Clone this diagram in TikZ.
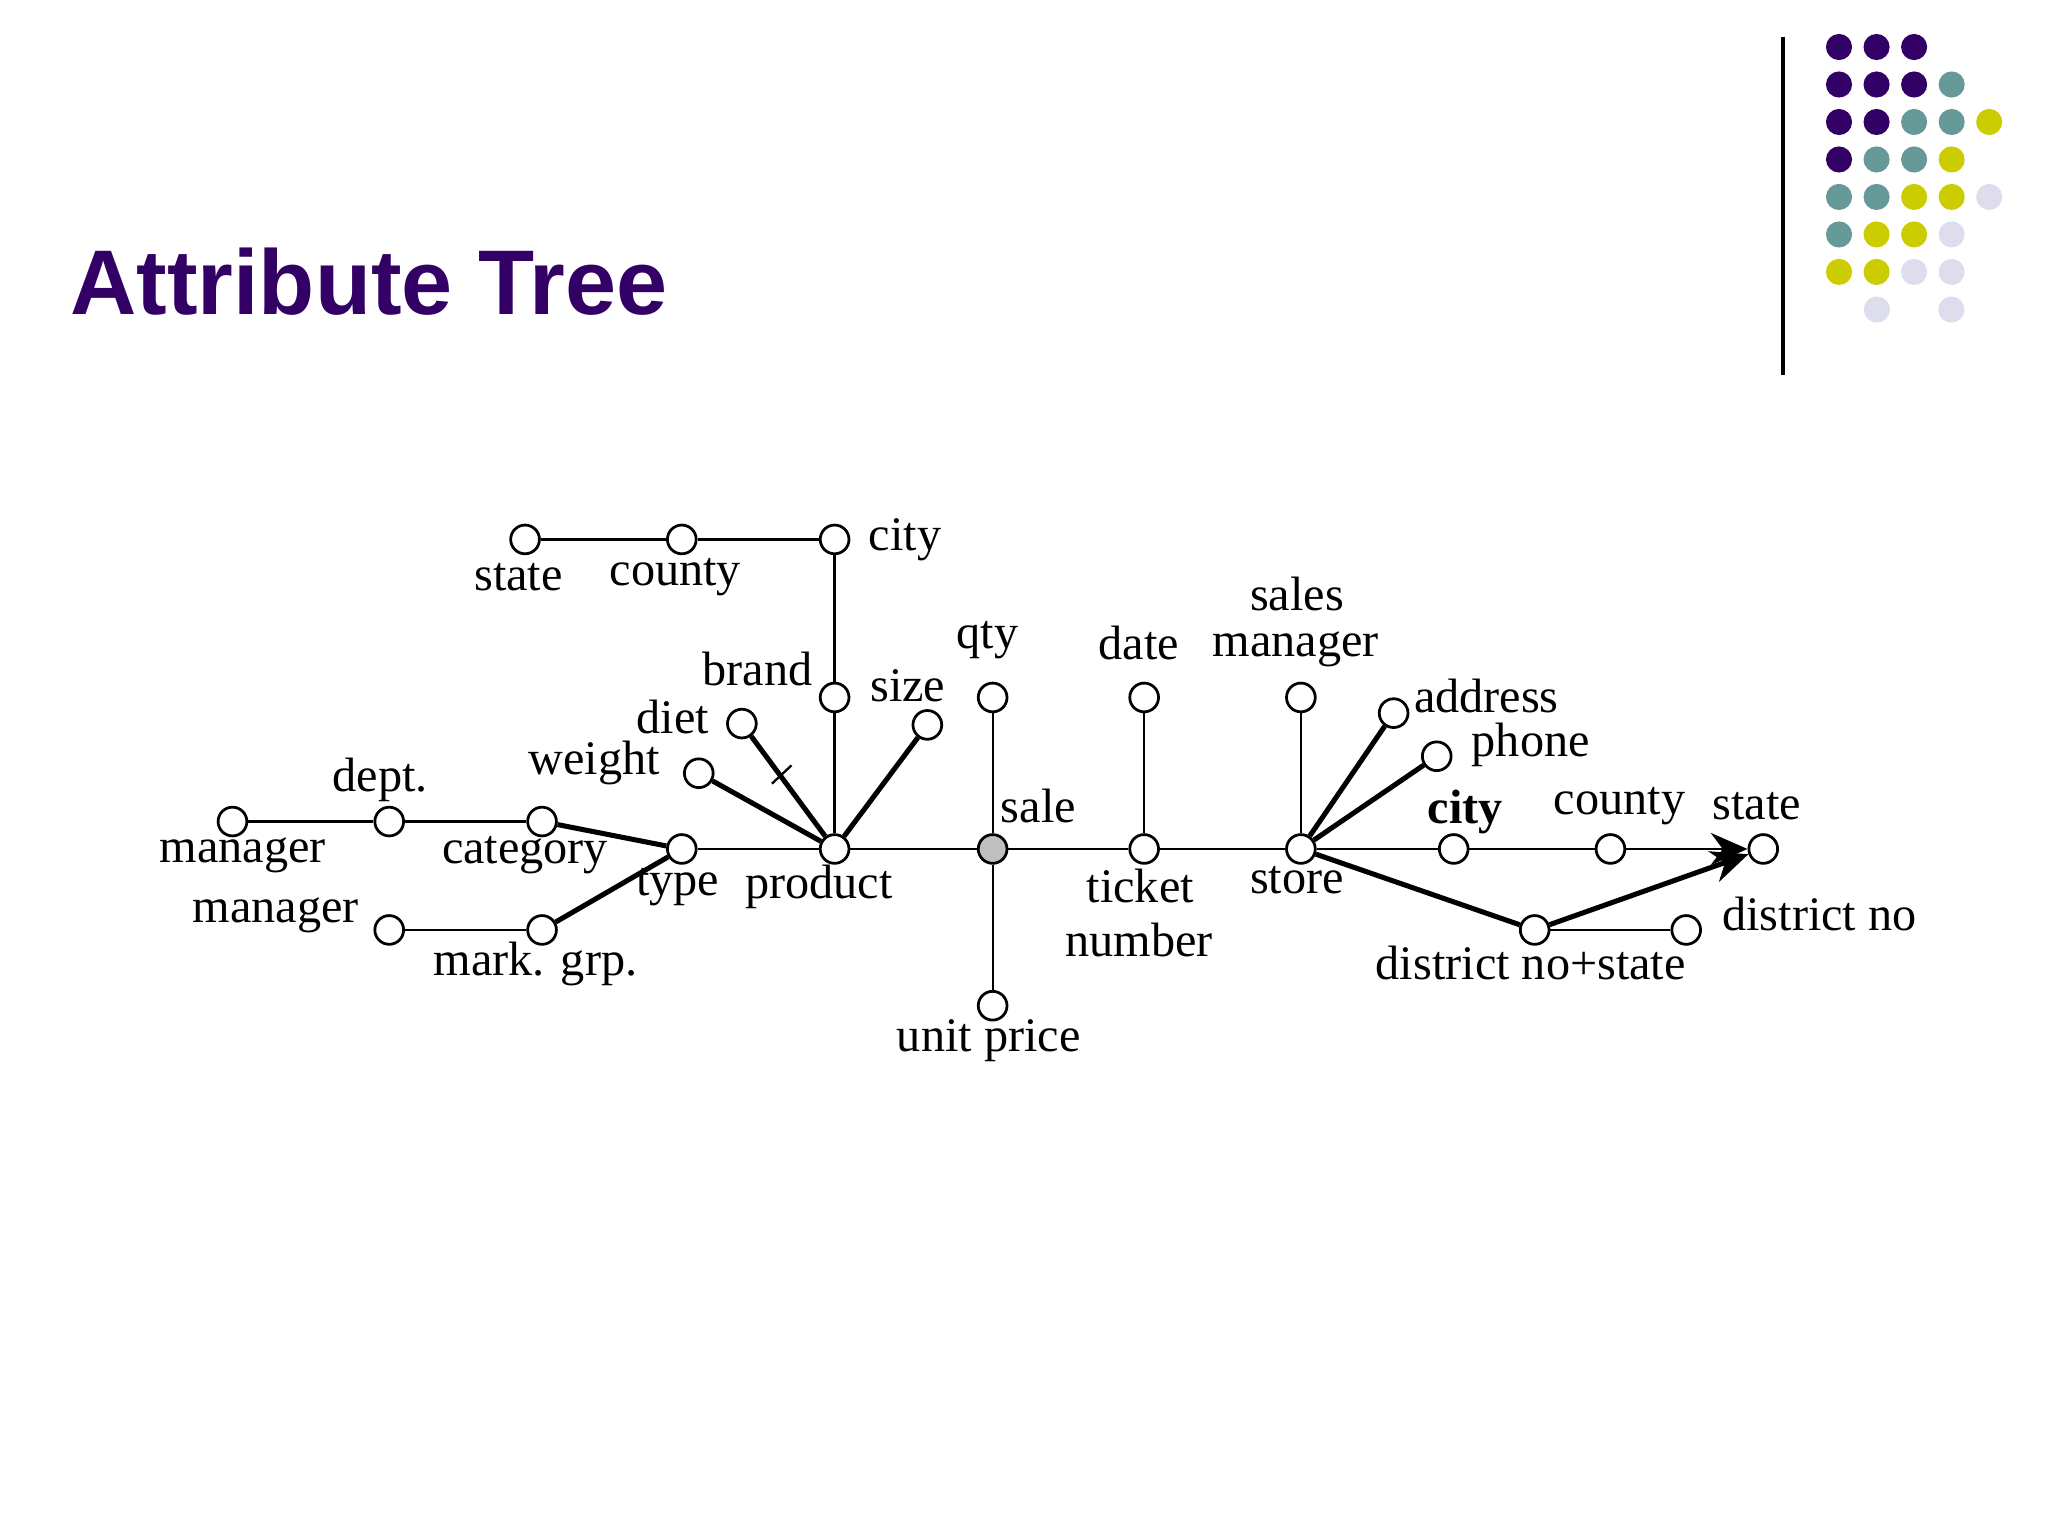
\documentclass[tikz,border=0pt]{standalone}
\usepackage{fontspec}
\setmainfont{Liberation Serif}
\newfontfamily\titlefont{Liberation Sans}
\usetikzlibrary{arrows.meta}
\definecolor{cP}{HTML}{330066}
\definecolor{cT}{HTML}{669999}
\definecolor{cY}{HTML}{CCCC00}
\definecolor{cL}{HTML}{DDDDEE}
\tikzset{
 v/.style={circle,draw,line width=0.6pt,fill=white,minimum size=0.22cm,inner sep=0pt},
 lab/.style={font=\fontsize{10.5}{12}\selectfont,inner sep=0pt},
 thick2/.style={line width=1.1pt},
 thin2/.style={line width=0.5pt},
 dot/.style={circle,fill=#1,minimum size=0.2cm,inner sep=0pt}
}
\begin{document}
\begin{tikzpicture}[x=0.01cm,y=-0.01cm]
\useasboundingbox (0,0) rectangle (1568,1176);
\node[anchor=west,text=cP,font=\titlefont\bfseries\fontsize{20}{24}\selectfont,inner sep=0pt] (title) at (53,216) {Attribute Tree};
\draw[line width=0.8pt] (1365,28) -- (1365,287);
% dots
\foreach \r/\row in {0/{P,P,P},1/{P,P,P,T},2/{P,P,T,T,Y},3/{P,T,T,Y},4/{T,T,Y,Y,L},5/{T,Y,Y,L},6/{Y,Y,L,L}}{
  \foreach \c [count=\i from 0] in \row {
    \node[dot=c\c] at (1408+28.75*\i,36+28.7*\r) {};
  }
}
\node[dot=cL] at (1437,237) {};
\node[dot=cL] at (1494,237) {};
% nodes
\node[v] (st1) at (402,413) {};
\node[v] (co1) at (522,413) {};
\node[v] (ci1) at (639,413) {};
\node[v] (brand) at (639,534) {};
\node[v] (diet) at (568,554) {};
\node[v] (size) at (710,555) {};
\node[v] (weight) at (535,592) {};
\node[v] (product) at (639,650) {};
\node[v] (qty) at (760,534) {};
\node[v,fill=black!25] (sale) at (760,650) {};
\node[v] (unit) at (760,770) {};
\node[v] (date) at (876,534) {};
\node[v] (ticket) at (876,650) {};
\node[v] (smgr) at (996,534) {};
\node[v] (store) at (996,650) {};
\node[v] (addr) at (1067,546) {};
\node[v] (phone) at (1100,579) {};
\node[v] (ci2) at (1113,650) {};
\node[v] (co2) at (1233,650) {};
\node[v] (st2) at (1350,650) {};
\node[v] (dist) at (1175,712) {};
\node[v] (dno) at (1291,712) {};
\node[v] (mgr1) at (178,629) {};
\node[v] (dept) at (298,629) {};
\node[v] (cat) at (415,629) {};
\node[v] (type) at (522,650) {};
\node[v] (mgr2) at (298,712) {};
\node[v] (mark) at (415,712) {};
% edges
\draw[thin2] (st1)--(co1) (co1)--(ci1) (ci1)--(brand) (brand)--(product)
 (product)--(type) (cat)--(dept) (dept)--(mgr1) (mark)--(mgr2)
 (product)--(sale) (sale)--(qty) (sale)--(unit) (sale)--(ticket) (ticket)--(date)
 (ticket)--(store) (store)--(smgr) (store)--(ci2) (ci2)--(co2) (dist)--(dno);
\draw[thick2] (diet)--(product) (size)--(product) (weight)--(product)
 (type)--(cat) (type)--(mark) (store)--(addr) (store)--(phone) (store)--(dist);
\draw[thin2,-{Stealth[length=8pt,width=7pt]}] (co2)--(st2);
\draw[thick2,-{Stealth[length=8pt,width=7pt]}] (dist)--(st2);
\draw[thin2] (591,600)--(606,586);
% labels
\node[lab] (l1) at (693,413) {city};
\node[lab] (l2) at (397,442) {state};
\node[lab] (l3) at (517,442) {county};
\node[lab] (l4) at (580,512) {brand};
\node[lab] (l5) at (515,549) {diet};
\node[lab] (l6) at (695,525) {size};
\node[lab] (l7) at (455,584) {weight};
\node[lab] (l8) at (291,597) {dept.};
\node[lab] (l9) at (186,655) {manager};
\node[lab] (l10) at (402,655) {category};
\node[lab] (l11) at (519,679) {type};
\node[lab] (l12) at (627,679) {product};
\node[lab] (l13) at (211,701) {manager};
\node[lab] (l14) at (410,738) {mark. grp.};
\node[lab] (l15) at (756,490) {qty};
\node[lab] (l16) at (795,617) {sale};
\node[lab] (l17) at (757,797) {unit price};
\node[lab] (l18) at (872,492) {date};
\node[lab] (l19) at (873,678) {ticket};
\node[lab] (l20) at (872,720) {number};
\node[lab] (l21) at (993,455) {sales};
\node[lab] (l22) at (992,497) {manager};
\node[lab] (l23) at (993,674) {store};
\node[lab] (l24) at (1138,533) {address};
\node[lab] (l25) at (1172,570) {phone};
\node[lab,font=\bfseries\fontsize{10.5}{12}\selectfont] (l26) at (1122,622) {city};
\node[lab] (l27) at (1240,617) {county};
\node[lab] (l28) at (1345,617) {state};
\node[lab] (l29) at (1393,700) {district no};
\node[lab] (l30) at (1172,737) {district no+state};
\end{tikzpicture}
\end{document}
